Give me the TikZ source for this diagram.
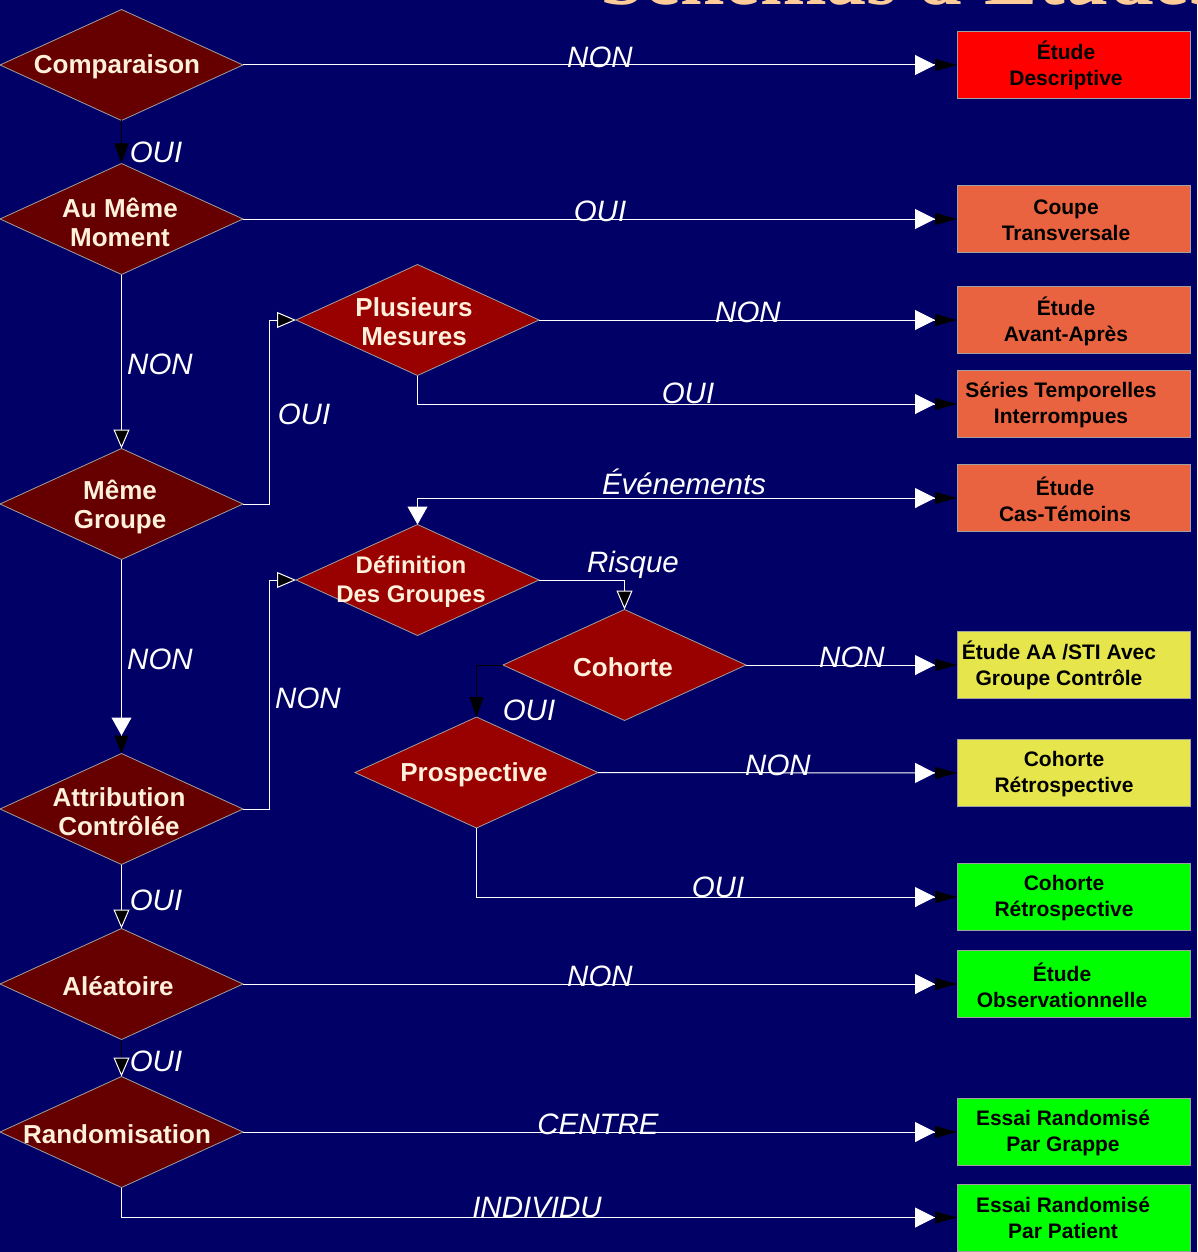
\documentclass[tikz,border=0pt]{standalone}
\usepackage{fontspec}
\setmainfont{Liberation Sans}
\newfontfamily\titlefont{Liberation Serif}
\usetikzlibrary{arrows.meta,shapes.geometric,calc}
\definecolor{navy}{HTML}{000066}
\definecolor{darkred}{HTML}{660000}
\definecolor{midred}{HTML}{990000}
\definecolor{cream}{HTML}{FFF0DC}
\definecolor{coral}{HTML}{EA6340}
\definecolor{lemon}{HTML}{E6E64C}
\definecolor{lime}{HTML}{00FF00}
\definecolor{peach}{HTML}{FFCC99}
\definecolor{rim}{HTML}{A0A0A0}
\tikzset{
  dia/.style={diamond, draw=rim, line width=0.8pt, minimum width=243pt, minimum height=111pt,
    inner sep=0pt, outer sep=0pt, shape aspect=2.19},
  dtxt/.style={text=cream, font=\fontsize{26}{29}\selectfont\bfseries, align=center, inner sep=0pt},
  box/.style={rectangle, draw=rim, line width=0.8pt, minimum width=233pt, minimum height=67pt,
    inner sep=0pt, outer sep=0pt},
  btxt/.style={text=black, font=\fontsize{21}{26}\selectfont\bfseries, align=center, inner sep=0pt},
  elab/.style={text=white, font=\fontsize{29.5}{30}\selectfont\itshape, inner sep=0pt},
  conn/.style={draw=white, line width=1pt},
  blk/.style={draw=black, line width=1pt},
  boxtip/.style={-{Triangle[white,length=20pt,width=20pt]Triangle[black,length=22pt,width=12pt]}},
  wbtip/.style={-{Triangle[color=white,fill=black,length=19pt,width=16pt]}},
  wwbtip/.style={-{Triangle[white,length=18pt,width=20pt]Triangle[black,length=18pt,width=14pt]}},
  blktip/.style={-{Triangle[black,length=20pt,width=14pt]}},
  twotip/.style={{Triangle[white,length=18pt,width=20pt]}-{Triangle[white,length=20pt,width=20pt]Triangle[black,length=22pt,width=12pt]}},
}
\begin{document}
\begin{tikzpicture}[x=1pt,y=-1pt]
% page and background
\useasboundingbox (0,0) rectangle (1197,1252);
\fill[navy] (0,0) rectangle (1197,1252);

% heading, cut by the top edge
\begin{scope}
  \clip (0,0) rectangle (1197,1252);
  \node[anchor=base west, text=peach, font=\titlefont\fontsize{80}{80}\selectfont\bfseries, inner sep=0pt]
    (title) at (600,5) {Schémas d'Études};
\end{scope}

% decision diamonds, main column
\node[dia, fill=darkred] (comp) at (121.5,65) {};
\node[dia, fill=darkred] (amm)  at (121.5,219) {};
\node[dia, fill=darkred] (mg)   at (121.5,504) {};
\node[dia, fill=darkred] (ac)   at (121.5,809) {};
\node[dia, fill=darkred] (al)   at (121.5,984) {};
\node[dia, fill=darkred] (ra)   at (121.5,1132) {};
% decision diamonds, inner branch
\node[dia, fill=midred] (pm) at (417.5,320) {};
\node[dia, fill=midred] (dg) at (417.5,580) {};
\node[dia, fill=midred] (co) at (624.5,665) {};
\node[dia, fill=midred] (pr) at (476.5,772.5) {};

\node[dtxt] (tcomp) at (117,67) {Comparaison};
\node[dtxt] (tamm)  at (120,222) {Au Même\\Moment};
\node[dtxt] (tmg)   at (120,507) {Même\\Groupe};
\node[dtxt] (tac)   at (119,812) {Attribution\\Contrôlée};
\node[dtxt] (tal)   at (118,986) {Aléatoire};
\node[dtxt] (tra)   at (117,1134) {Randomisation};
\node[dtxt] (tpm)   at (414,322) {Plusieurs\\Mesures};
\node[dtxt, font=\fontsize{24}{29}\selectfont\bfseries] (tdg) at (411,582) {Définition\\Des Groupes};
\node[dtxt] (tco)   at (623,667) {Cohorte};
\node[dtxt] (tpr)   at (474,775) {Prospective};

% outcome boxes
\node[box, fill=red]   (bDesc)  at (1073.5,65) {};
\node[box, fill=coral] (bCoupe) at (1073.5,219) {};
\node[box, fill=coral] (bAA)    at (1073.5,320) {};
\node[box, fill=coral] (bSTI)   at (1073.5,404) {};
\node[box, fill=coral] (bCT)    at (1073.5,498) {};
\node[box, fill=lemon] (bAAG)   at (1073.5,665) {};
\node[box, fill=lemon] (bCRy)   at (1073.5,773) {};
\node[box, fill=lime]  (bCRg)   at (1073.5,897) {};
\node[box, fill=lime]  (bObs)   at (1073.5,984) {};
\node[box, fill=lime]  (bGr)    at (1073.5,1132) {};
\node[box, fill=lime]  (bPat)   at (1073.5,1217.5) {};

\node[btxt] (tDesc)  at (1066,65) {Étude\\Descriptive};
\node[btxt] (tCoupe) at (1066,220) {Coupe\\Transversale};
\node[btxt] (tAA)    at (1066,321) {Étude\\Avant-Après};
\node[btxt] (tSTI)   at (1061,405) {Séries Temporelles\\Interrompues};
\node[btxt] (tCT)    at (1065,499) {Étude\\Cas-Témoins};
\node[btxt] (tAAG)   at (1059,665) {Étude AA /STI Avec\\Groupe Contrôle};
\node[btxt] (tCRy)   at (1064,774) {Cohorte\\Rétrospective};
\node[btxt] (tCRg)   at (1064,898) {Cohorte\\Rétrospective};
\node[btxt] (tObs)   at (1062,985) {Étude\\Observationnelle};
\node[btxt] (tGr)    at (1063,1133) {Essai Randomisé\\Par Grappe};
\node[btxt] (tPat)   at (1063,1218) {Essai Randomisé\\Par Patient};

% connectors
\draw[conn, boxtip] (comp.east) -- (bDesc.west);
\draw[blk, blktip]  (comp.south) -- (amm.north);
\draw[conn, boxtip] (amm.east) -- (bCoupe.west);
\draw[conn, wbtip]  (amm.south) -- (mg.north);
\draw[conn, wbtip]  (mg.east) -- ++(26,0) |- (pm.west);
\draw[conn, boxtip] (pm.east) -- (bAA.west);
\draw[conn, boxtip] (pm.south) |- (bSTI.west);
\draw[conn, twotip] (dg.north) |- (bCT.west);
\draw[conn, wwbtip] (mg.south) -- (ac.north);
\draw[conn, wbtip]  (ac.east) -- ++(26,0) |- (dg.west);
\draw[conn, wbtip]  (dg.east) -| (co.north);
\draw[conn, boxtip] (co.east) -- (bAAG.west);
\draw[blk, blktip]  (co.west) -| (pr.north);
\draw[conn, boxtip] (pr.east) -- (bCRy.west);
\draw[conn, boxtip] (pr.south) |- (bCRg.west);
\draw[conn, wbtip]  (ac.south) -- (al.north);
\draw[conn, boxtip] (al.east) -- (bObs.west);
\draw[blk, wbtip]   (al.south) -- (ra.north);
\draw[conn, boxtip] (ra.east) -- (bGr.west);
\draw[conn, boxtip] (ra.south) |- (bPat.west);

% connector labels
\node[elab] (l1)  at (600,57) {NON};
\node[elab] (l2)  at (156,152) {OUI};
\node[elab] (l3)  at (600,211) {OUI};
\node[elab] (l4)  at (160,364) {NON};
\node[elab] (l5)  at (304,414) {OUI};
\node[elab] (l6)  at (748,312) {NON};
\node[elab] (l7)  at (688,393) {OUI};
\node[elab] (l8)  at (684,482) {Événements};
\node[elab] (l9)  at (633,565) {Risque};
\node[elab] (l10) at (160,659) {NON};
\node[elab] (l11) at (308,698) {NON};
\node[elab] (l12) at (852,657) {NON};
\node[elab] (l13) at (529,710) {OUI};
\node[elab] (l14) at (778,765) {NON};
\node[elab] (l15) at (718,887) {OUI};
\node[elab] (l16) at (156,900) {OUI};
\node[elab] (l17) at (600,976) {NON};
\node[elab] (l18) at (156,1061) {OUI};
\node[elab] (l19) at (598,1124) {CENTRE};
\node[elab] (l20) at (537,1207) {INDIVIDU};
\end{tikzpicture}
\end{document}
